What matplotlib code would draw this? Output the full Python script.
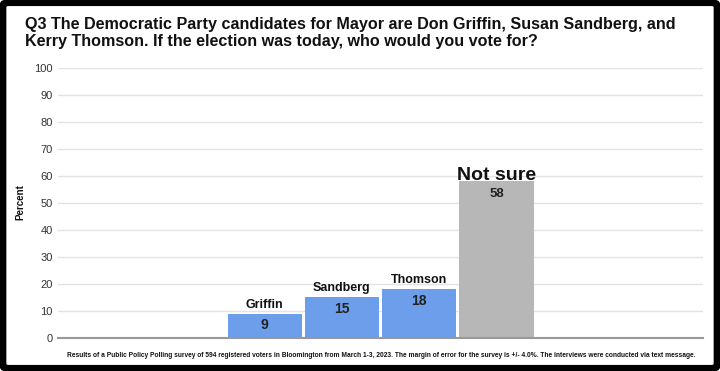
import matplotlib
matplotlib.use("Agg")
import matplotlib.pyplot as plt
from matplotlib.patches import FancyBboxPatch

candidates = ["Griffin", "Sandberg", "Thomson", "Not sure"]
values = [9, 15, 18, 58]
colors = ["#6d9eeb", "#6d9eeb", "#6d9eeb", "#b7b7b7"]
yticks = [0, 10, 20, 30, 40, 50, 60, 70, 80, 90, 100]
title = ("Q3 The Democratic Party candidates for Mayor are Don Griffin, Susan Sandberg, and\n"
         "Kerry Thomson. If the election was today, who would you vote for?")
footer = ("Results of a Public Policy Polling survey of 594 registered voters in Bloomington from March 1-3, 2023. "
          "The margin of error for the survey is +/- 4.0%. The interviews were conducted via text message.")

FONT = "Liberation Sans"

fig = plt.figure(figsize=(7.2, 3.71), dpi=100)
fig.patch.set_facecolor("white")
border = FancyBboxPatch((0.004, 0.007), 0.992, 0.986, boxstyle="round,pad=0,rounding_size=0.008",
                        transform=fig.transFigure, facecolor="none", edgecolor="black", linewidth=5)
fig.patches.append(border)

ax = fig.add_axes([0.081, 0.089, 0.895, 0.728])
x = list(range(len(candidates)))
ax.bar(x, values, width=0.96, color=colors, zorder=2)
ax.set_xlim(-2.67, 5.67)
ax.set_ylim(0, 100)
ax.set_yticks(yticks)
ax.set_yticklabels([str(t) for t in yticks], fontsize=8, color="#333333", family=FONT)
ax.tick_params(axis="y", length=0, pad=4)
ax.set_xticks([])
for s in ["top", "right", "left"]:
    ax.spines[s].set_visible(False)
ax.spines["bottom"].set_color("#999999")
ax.spines["bottom"].set_linewidth(1.5)
ax.spines["bottom"].set_zorder(3)
ax.grid(axis="y", color="#e3e3e3", linewidth=1, zorder=0)

fig.text(0.028, 0.455, "Percent", rotation=90, ha="center", va="center", fontsize=7,
         fontweight="bold", family=FONT, color="#111111")

for i, (c, v) in enumerate(zip(candidates, values)):
    if c == "Not sure":
        ax.annotate(c, (i, v), xytext=(0, 1), textcoords="offset points",
                    ha="center", va="baseline", fontsize=14, fontweight="bold",
                    family=FONT, color="#111111", zorder=4)
        ax.annotate(str(v), (i, v), xytext=(0, -9), textcoords="offset points",
                    ha="center", va="center", fontsize=9.5, fontweight="bold",
                    family=FONT, color="#222222", zorder=4)
    else:
        ax.annotate(c, (i, v), xytext=(0, 6.5), textcoords="offset points",
                    ha="center", va="center", fontsize=9, fontweight="bold",
                    family=FONT, color="#111111", zorder=4)
        ax.annotate(str(v), (i, v), xytext=(0, -8.3), textcoords="offset points",
                    ha="center", va="center", fontsize=10, fontweight="bold",
                    family=FONT, color="#222222", zorder=4)

fig.text(0.035, 0.953, title, ha="left", va="top", fontsize=11.6, fontweight="bold",
         family=FONT, color="#111111", linespacing=1.1)
fig.text(0.53, 0.043, footer, ha="center", va="center", fontsize=4.78, fontweight="bold",
         family=FONT, color="#111111")

fig.savefig("out.png", dpi=100)
